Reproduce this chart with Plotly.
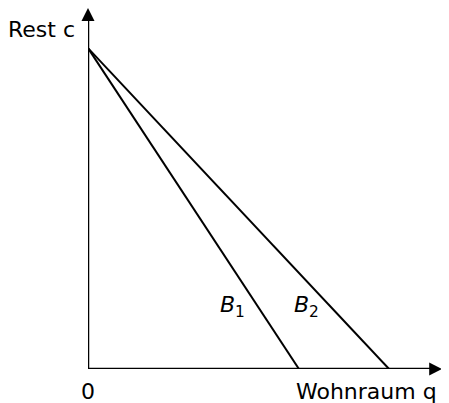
import plotly.graph_objects as go

# Data (model units)
rest_intercept = 8.89          # c at q = 0 (both budget lines)
q_intercepts = [6.51, 9.29]    # B1, B2 intercepts on q axis
line_labels = ["1", "2"]       # subscripts of budget line labels
q_axis_end = 10.93             # arrow tip of q axis
c_axis_end = 10.0              # arrow tip of c axis
x_max = 11.14
y_max = 10.0

OFF = 8                        # page body margin
W, H = 449 - OFF, 403 - OFF
L, R, T, B = 88 - OFF, 0, 8 - OFF, 403 - 369
pw, ph = W - L - R, H - T - B

fig = go.Figure()
for qi in q_intercepts:
    fig.add_trace(go.Scatter(x=[0, qi], y=[rest_intercept, 0], mode="lines",
                             line=dict(color="black", width=2), showlegend=False,
                             hoverinfo="skip", cliponaxis=False))

# axes
fig.add_trace(go.Scatter(x=[0, q_axis_end - 0.15], y=[0, 0], mode="lines",
                         line=dict(color="black", width=2.5), hoverinfo="skip", cliponaxis=False))
fig.add_trace(go.Scatter(x=[0, 0], y=[0, c_axis_end - 0.15], mode="lines",
                         line=dict(color="black", width=2.5), hoverinfo="skip", cliponaxis=False))
# arrow heads
fig.add_trace(go.Scatter(x=[q_axis_end], y=[0], mode="markers",
                         marker=dict(symbol="arrow-right", size=13, color="black", line=dict(width=0)),
                         hoverinfo="skip", cliponaxis=False))
fig.add_trace(go.Scatter(x=[0], y=[c_axis_end], mode="markers",
                         marker=dict(symbol="arrow-up", size=13, color="black", line=dict(width=0)),
                         hoverinfo="skip", cliponaxis=False))

font = dict(family="DejaVu Sans, sans-serif", size=22, color="black")

def px(xp, yp):
    # page pixel -> paper coords
    return (xp - OFF - L) / pw, (H - B - (yp - OFF)) / ph

x, y = px(77, 30)
fig.add_annotation(x=x, y=y, xref="paper", yref="paper", text="Rest c", showarrow=False,
                   xanchor="right", yanchor="middle", font=font)
x, y = px(88, 391)
fig.add_annotation(x=x, y=y, xref="paper", yref="paper", text="0", showarrow=False,
                   xanchor="center", yanchor="middle", font=font)
x, y = px(366, 391)
fig.add_annotation(x=x, y=y, xref="paper", yref="paper", text="Wohnraum q", showarrow=False,
                   xanchor="center", yanchor="middle", font=font)
for sub, (cx, cy) in zip(line_labels, [(232, 306), (306, 306)]):
    x, y = px(cx, cy)
    fig.add_annotation(x=x, y=y, xref="paper", yref="paper", text="<i>B</i><sub>" + sub + "</sub>",
                       showarrow=False, xanchor="center", yanchor="middle", font=font)

fig.update_xaxes(range=[0, x_max], visible=False, fixedrange=True)
fig.update_yaxes(range=[0, y_max], visible=False, fixedrange=True)
fig.update_layout(width=W, height=H, margin=dict(l=L, r=R, t=T, b=B),
                  plot_bgcolor="white", paper_bgcolor="white", showlegend=False)
fig.write_html("out.html")
